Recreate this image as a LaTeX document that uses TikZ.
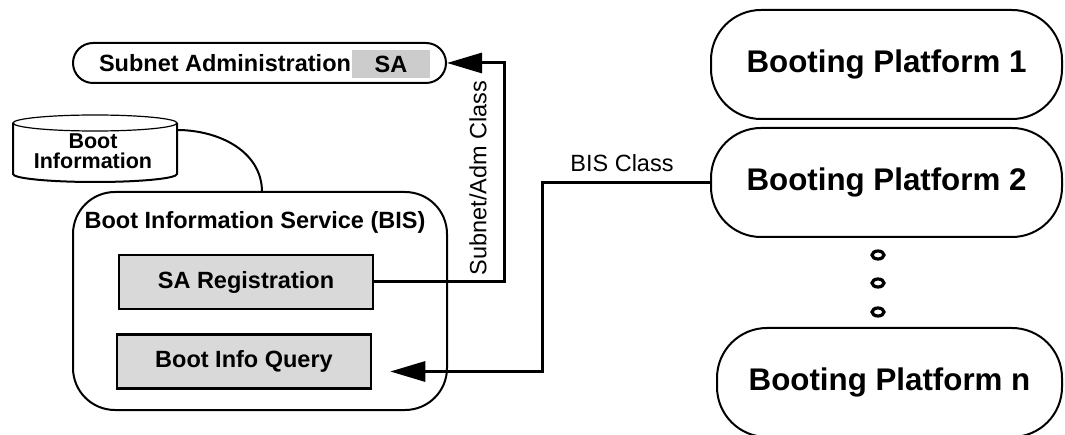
\documentclass[tikz,border=0pt]{standalone}
\usepackage{fontspec}
\setmainfont{Liberation Sans}
\usetikzlibrary{arrows.meta,positioning}

\begin{document}
\begin{tikzpicture}[x=1pt,y=1pt,
  lbl/.style={font=\fontsize{23.5}{27}\selectfont\bfseries,inner sep=0pt},
  cls/.style={font=\fontsize{23.5}{27}\selectfont,inner sep=0pt},
  pill/.style={draw,line width=2pt,rounded corners=20pt,minimum width=373pt,minimum height=40pt},
  svc/.style={draw,line width=2pt,rounded corners=42pt,minimum width=374pt,minimum height=218pt},
  func/.style={draw,line width=2.5pt,fill=gray!30,minimum width=254pt,minimum height=54pt,
               font=\fontsize{23.5}{27}\selectfont\bfseries},
  platform/.style={draw,line width=2pt,rounded corners=50pt,minimum width=351pt,minimum height=109pt,
                   font=\fontsize{31.3}{36}\selectfont\bfseries},
  conn/.style={line width=3pt},
  arr/.style={conn,-{Triangle[length=35pt,width=20pt]}},
  node distance=7pt]
\useasboundingbox (0,0) rectangle (1065,-435);

% subnet administration
\node[pill] (sa) at (259.5,-63) {};
\node[lbl,fill=gray!40,minimum width=78pt,minimum height=28pt] (sabox) at (391,-64) {SA};
\node[lbl] (satext) at (225,-63) {Subnet Administration};

% boot information store
\draw[line width=2pt] (13,-123) -- (13,-174) arc[start angle=180,end angle=360,x radius=82,y radius=8] -- (177,-123);
\draw[line width=1.2pt] (95,-123) ellipse[x radius=82,y radius=8];
\node[font=\fontsize{21.5}{20}\selectfont\bfseries,align=center,inner sep=0pt] (bootdb) at (93,-151) {Boot\\Information};

% BIS
\node[svc] (bis) at (260,-301) {};
\node[lbl] (bistitle) at (255,-222) {Boot Information Service (BIS)};
\node[func] (sareg) at (246,-282) {SA Registration};
\node[func] (bisq) at (244,-361.5) {Boot Info Query};

\coordinate (dbedge) at (177,-130);
\coordinate (bistop) at (262,-192);
\draw[line width=2pt] (dbedge) to[out=0,in=90] (bistop);

% platforms
\node[platform] (bp1) at (886.5,-64.5) {Booting Platform 1};
\node[platform,below=of bp1] (bp2) {Booting Platform 2};
\node[platform,minimum width=345pt] (bpn) at (889.5,-382.5) {Booting Platform n};
\foreach \y in {255,283,312}
  \draw[line width=3.2pt] (878,-\y) ellipse[x radius=6,y radius=4];

% connectors
\draw[arr] (sareg.east) -- ++(130,0) |- (sa.east);
\node[cls,rotate=90] (admlbl) at (478,-178) {Subnet/Adm Class};
\draw[arr,shorten >=18pt] (bp2.west) -- ++(-168,0) |- ([yshift=-10pt]bisq.east);
\node[cls] (bislbl) at (622,-163.5) {BIS Class};
\end{tikzpicture}
\end{document}
